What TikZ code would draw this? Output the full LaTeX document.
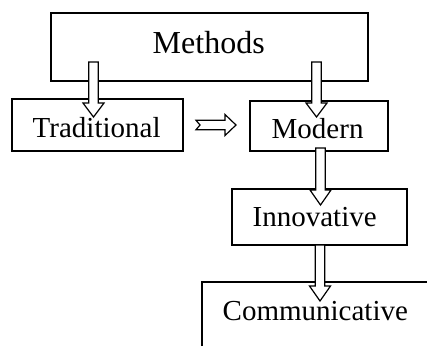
\documentclass[tikz,border=0pt]{standalone}
\usepackage{fontspec}
\setmainfont{Liberation Serif}
\usetikzlibrary{calc}

\tikzset{
  box/.style={draw, line width=1.3pt, inner sep=0pt},
  lbl/.style={anchor=base west, inner sep=0pt, font=\fontsize{29}{34}\selectfont},
  blk/.style={draw, fill=white, line width=1.2pt, line join=miter},
}

% hollow block arrow from #1 to #2; #3 = head length, #4 = tail notch depth
\newcommand\blockarrow[4]{%
  \coordinate (bah) at ($(#2)!#3!(#1)$);
  \coordinate (ban) at ($(#1)!#4!(#2)$);
  \draw[blk] ($(#1)!4.75pt!90:(#2)$) -- ($(bah)!4.75pt!-90:(#1)$)
    -- ($(bah)!10.5pt!-90:(#1)$) -- (#2) -- ($(bah)!10.5pt!90:(#1)$)
    -- ($(bah)!4.75pt!90:(#1)$) -- ($(#1)!4.75pt!-90:(#2)$) -- (ban) -- cycle;
}

\begin{document}
\begin{tikzpicture}[x=1pt, y=-1pt]
  \useasboundingbox (0,0) rectangle (427,346);

  % boxes
  \node[box, minimum width=317pt, minimum height=68pt] (methods) at (209.5,47) {};
  \node[box, minimum width=171pt, minimum height=52pt] (trad) at (97.5,125) {};
  \node[box, minimum width=138pt, minimum height=50pt] (modern) at (319,126) {};
  \node[box, minimum width=175pt, minimum height=56pt] (innov) at (319.5,217) {};
  % open frame round the last item
  \coordinate (commbl) at (202,346);
  \coordinate (commtl) at (202,282);
  \coordinate (commtr) at (427,282);
  \draw[line width=1.3pt] (commbl) -- (commtl) -- (commtr);

  % labels
  \node[lbl, font=\fontsize{32}{38}\selectfont] (tmethods) at (152.5,53.5) {Methods};
  \node[lbl] (ttrad) at (32.5,137.5) {Traditional};
  \node[lbl] (tmodern) at (271.5,138) {Modern};
  \node[lbl] (tinnov) at (252.5,226) {Innovative};
  \node[lbl] (tcomm) at (222.5,320) {Communicative};

  % arrow end points
  \coordinate (a1s) at (93.5,62);   \coordinate (a1e) at (93.5,117);
  \coordinate (a2s) at (316.5,62);  \coordinate (a2e) at (316.5,117);
  \coordinate (a3s) at (196,125);   \coordinate (a3e) at (236,125);
  \coordinate (a4s) at (320.5,148); \coordinate (a4e) at (320.5,205);
  \coordinate (a5s) at (320,245);   \coordinate (a5e) at (320,301);

  \blockarrow{a1s}{a1e}{14pt}{0pt}
  \blockarrow{a2s}{a2e}{14pt}{0pt}
  \blockarrow{a3s}{a3e}{11pt}{4pt}
  \blockarrow{a4s}{a4e}{15pt}{0pt}
  \blockarrow{a5s}{a5e}{15pt}{0pt}
\end{tikzpicture}
\end{document}
